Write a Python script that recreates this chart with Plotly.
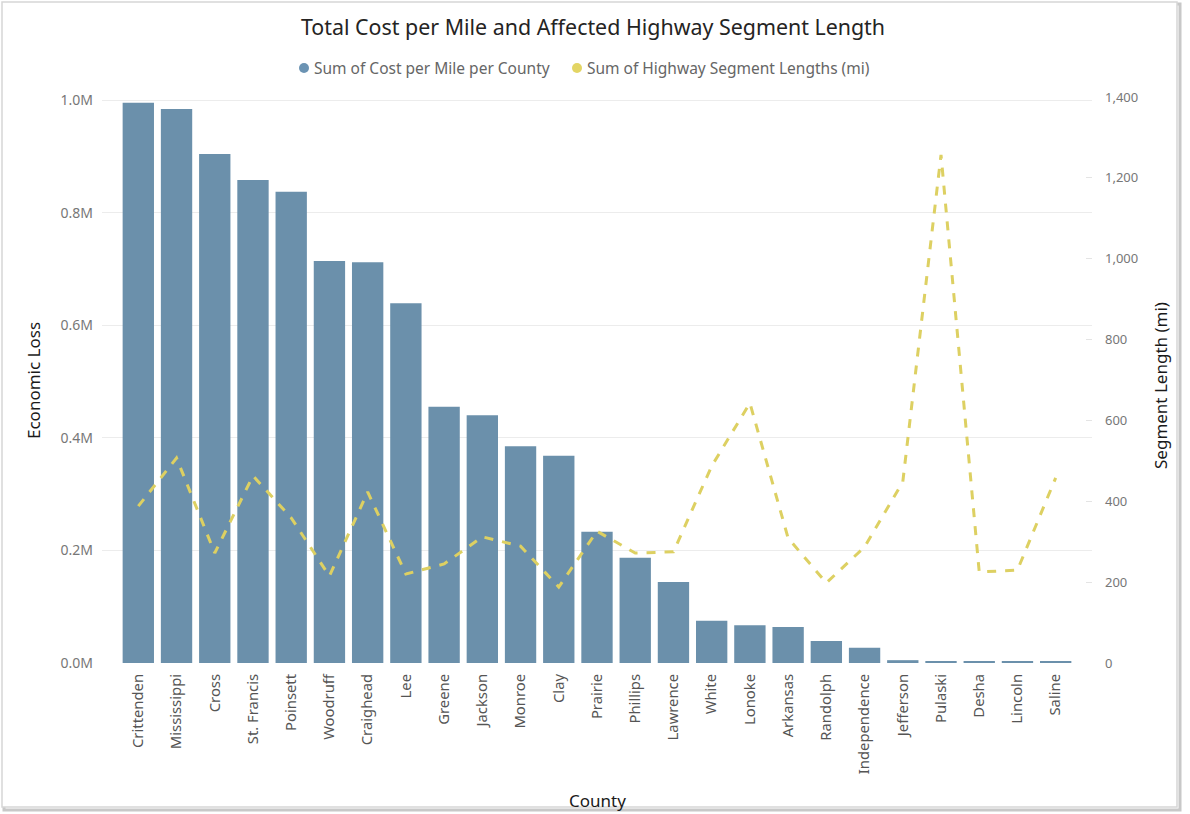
import plotly.graph_objects as go

# County-level data
counties = ["Crittenden", "Mississippi", "Cross", "St. Francis", "Poinsett", "Woodruff",
            "Craighead", "Lee", "Greene", "Jackson", "Monroe", "Clay", "Prairie", "Phillips",
            "Lawrence", "White", "Lonoke", "Arkansas", "Randolph", "Independence",
            "Jefferson", "Pulaski", "Desha", "Lincoln", "Saline"]

cost_per_mile = [995000, 984000, 904000, 858000, 837000, 714000, 712000, 639000, 455000,
                 440000, 385000, 368000, 233000, 187000, 144000, 75000, 67000, 64000,
                 39000, 27000, 5000, 2000, 2000, 2000, 2000]

segment_length = [388, 507, 272, 463, 359, 215, 423, 220, 245, 312, 289, 188, 326, 272,
                  275, 487, 643, 309, 198, 287, 448, 1257, 225, 230, 458]

left_tickvals = [0, 200000, 400000, 600000, 800000, 1000000]
left_ticktext = ["0.0M", "0.2M", "0.4M", "0.6M", "0.8M", "1.0M"]
right_tickvals = [0, 200, 400, 600, 800, 1000, 1200, 1400]

BAR_COLOR = "#6b90ab"
LINE_COLOR = "#ddd062"
BAR_KEY = "#6b93b3"
LINE_KEY = "#e3d564"
FONT = "Noto Sans"

# Plot-area pixel geometry (1190 x 814 canvas)
W, H = 1190, 814
PL, PR, PT, PB = 102, 1092, 97, 663


def px_x(x):
    return (x - PL) / (PR - PL)


def px_y(y):
    return (PB - y) / (PB - PT)


fig = go.Figure()

fig.add_trace(go.Bar(
    x=counties, y=cost_per_mile, name="Sum of Cost per Mile per County",
    marker=dict(color=BAR_COLOR, line=dict(width=0)),
    showlegend=False, yaxis="y",
))

fig.add_trace(go.Scatter(
    x=counties, y=segment_length, name="Sum of Highway Segment Lengths (mi)",
    mode="lines", line=dict(color=LINE_COLOR, width=3, dash="dash"),
    showlegend=False, yaxis="y2",
))

shapes = [
    # outer frame shadow
    dict(type="rect", xref="paper", yref="paper",
         x0=px_x(4), x1=px_x(1180), y0=px_y(4), y1=px_y(810),
         line=dict(color="#c8c8c8", width=3), layer="below"),
    # outer frame
    dict(type="rect", xref="paper", yref="paper",
         x0=px_x(2), x1=px_x(1177), y0=px_y(2), y1=px_y(807),
         line=dict(color="#d6d6d6", width=1.5), fillcolor="white", layer="below"),
    # legend keys
    dict(type="circle", xref="paper", yref="paper",
         x0=px_x(299), x1=px_x(309), y0=px_y(63), y1=px_y(73),
         fillcolor=BAR_KEY, line=dict(width=0)),
    dict(type="circle", xref="paper", yref="paper",
         x0=px_x(572), x1=px_x(582), y0=px_y(63), y1=px_y(73),
         fillcolor=LINE_KEY, line=dict(width=0)),
]

title_font = dict(family=FONT, size=17, color="#1a1a1a")
legend_font = dict(family=FONT, size=15.5, color="#666")

annotations = [
    dict(text="Economic Loss", x=px_x(33), y=px_y(381), xref="paper", yref="paper",
         xanchor="center", yanchor="middle",
         textangle=-90, showarrow=False, font=title_font),
    dict(text="Segment Length (mi)", x=px_x(1160), y=px_y(386), xref="paper", yref="paper",
         xanchor="center", yanchor="middle",
         textangle=-90, showarrow=False, font=title_font),
    dict(text="County", x=px_x(597), y=px_y(800), xref="paper", yref="paper",
         xanchor="center", yanchor="middle",
         showarrow=False, font=title_font),
    dict(text="Sum of Cost per Mile per County", x=px_x(312), y=px_y(68),
         xref="paper", yref="paper", xanchor="left", yanchor="middle",
         showarrow=False, font=legend_font),
    dict(text="Sum of Highway Segment Lengths (mi)", x=px_x(585), y=px_y(68),
         xref="paper", yref="paper", xanchor="left", yanchor="middle",
         showarrow=False, font=legend_font),
]

fig.update_layout(
    width=W, height=H,
    margin=dict(l=PL, r=W - PR, t=PT, b=H - PB, pad=0),
    paper_bgcolor="white", plot_bgcolor="rgba(0,0,0,0)",
    font=dict(family=FONT, color="#666"),
    title=dict(text="Total Cost per Mile and Affected Highway Segment Length",
               x=px_x(593), xanchor="center", xref="paper", y=1 - 28 / H, yanchor="middle",
               font=dict(family=FONT, size=21.4, color="#252423")),
    bargap=0.18,
    showlegend=False,
    xaxis=dict(type="category", range=[-0.95, 24.95], tickangle=-90,
               tickfont=dict(family=FONT, size=14.8, color="#555"),
               showgrid=False, zeroline=False, showline=False, ticks="",
               ticklabelstandoff=7),
    yaxis=dict(range=[0, 1000000 * (PB - PT) / (PB - 100)], tickvals=left_tickvals,
               ticktext=left_ticktext, tickfont=dict(family=FONT, size=14, color="#777"),
               showgrid=True, gridcolor="#ececec", gridwidth=1, zeroline=False,
               showline=False, ticks="", ticklabelstandoff=8),
    yaxis2=dict(range=[0, 1400], overlaying="y", side="right", tickvals=right_tickvals,
                tickformat=",", tickfont=dict(family=FONT, size=13, color="#777"),
                showgrid=False, zeroline=False, showline=False,
                ticks="inside", ticklen=6, tickcolor="#e4e4e4", ticklabelstandoff=12),
    shapes=shapes,
    annotations=annotations,
)

fig.write_html("out.html")
